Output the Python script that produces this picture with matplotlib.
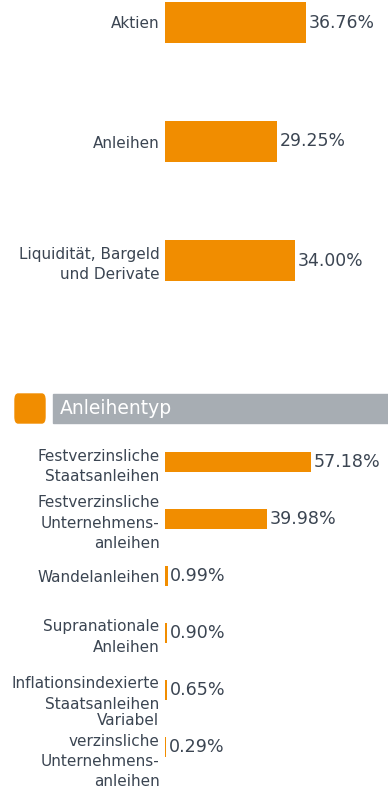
import matplotlib.pyplot as plt
from matplotlib.patches import FancyBboxPatch, Rectangle

# Vermögensaufteilung
klassen = ['Aktien', 'Anleihen', 'Liquidität, Bargeld\nund Derivate']
klassen_anteil = [36.76, 29.25, 34.00]

# Anleihentypen
typen = ['Festverzinsliche\nStaatsanleihen',
         'Festverzinsliche\nUnternehmens-\nanleihen',
         'Wandelanleihen',
         'Supranationale\nAnleihen',
         'Inflationsindexierte\nStaatsanleihen',
         'Variabel\nverzinsliche\nUnternehmens-\nanleihen']
typen_anteil = [57.18, 39.98, 0.99, 0.90, 0.65, 0.29]

ORANGE = '#f18d00'
GRAU = '#a7adb3'
TEXT = '#3b4552'

plt.rcParams['font.family'] = ['DejaVu Sans']

W, H = 388, 788
fig = plt.figure(figsize=(W / 100, H / 100), dpi=100)


def px_axes(left, top, right, bottom):
    return fig.add_axes([left / W, 1 - bottom / H, (right - left) / W, (bottom - top) / H])


def balken(ax, labels, werte, xmax, ymin, ymax, hoehe, lsize, vsize, lsp):
    pos = list(range(len(werte)))
    ax.barh(pos, werte, height=hoehe, color=ORANGE)
    ax.set_xlim(0, xmax)
    ax.set_ylim(ymax, ymin)
    ax.set_yticks(pos)
    ax.set_yticklabels(labels, fontsize=lsize, color=TEXT, linespacing=lsp)
    ax.tick_params(axis='y', length=0, pad=4)
    ax.set_xticks([])
    for s in ax.spines.values():
        s.set_visible(False)
    for p, v in zip(pos, werte):
        ax.annotate(f'{v:.2f}%', (v, p), xytext=(2, 0), textcoords='offset points',
                    va='center', ha='left', fontsize=vsize, color=TEXT)


# oberes Diagramm
ax1 = px_axes(165, 0, W, 320)
balken(ax1, klassen, klassen_anteil, (W - 165) / 3.83,
       -22.5 / 119, (320 - 22.5) / 119, 0.35, 11, 12.4, 1.45)

# Überschrift Anleihentyp
fig.patches.append(FancyBboxPatch((15 / W, 1 - 423 / H), 30 / W, 29 / H,
                                  boxstyle='round,pad=0,rounding_size=0.008',
                                  transform=fig.transFigure, color=ORANGE))
fig.patches.append(Rectangle((53 / W, 1 - 423 / H), (W - 53) / W, 29 / H,
                             transform=fig.transFigure, color=GRAU))
fig.text(60 / W, 1 - 409 / H, 'Anleihentyp', color='white', fontsize=13.5,
         va='center', ha='left')

# unteres Diagramm
ax2 = px_axes(165, 433, W, H)
balken(ax2, typen, typen_anteil, (W - 165) / 2.55,
       (433 - 462) / 57, (H - 462) / 57, 0.35, 11, 12.6, 1.45)

fig.savefig('out.png', dpi=100)
